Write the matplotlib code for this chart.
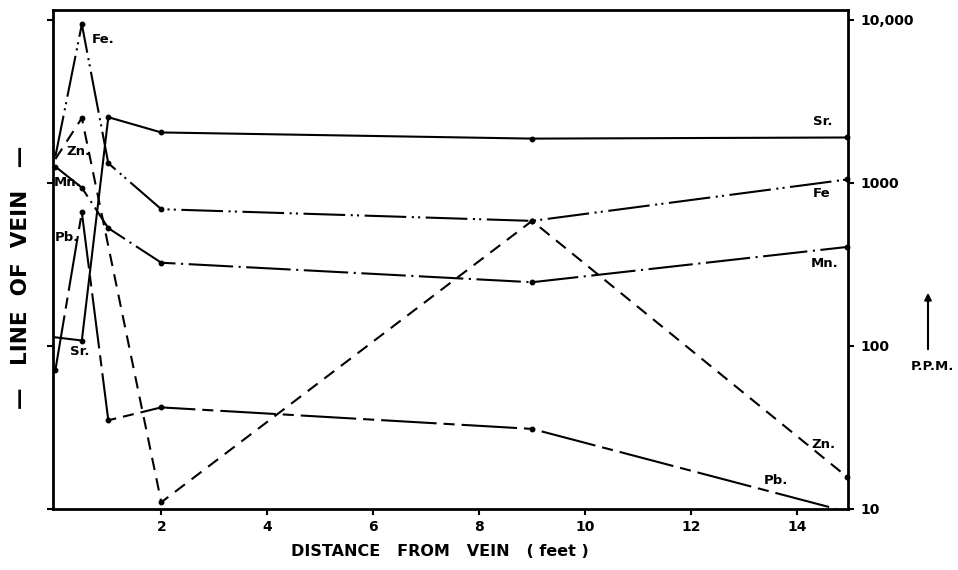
import matplotlib
matplotlib.use("Agg")
import matplotlib.pyplot as plt
from matplotlib.ticker import FixedLocator, FixedFormatter, NullLocator

plt.rcParams['font.family'] = ['DejaVu Sans']
plt.rcParams['lines.scale_dashes'] = False

# %% Data (ppm against distance from vein, feet)
dist_fe = [0, 0.5, 1, 2, 9, 14.95]
fe_ppm = [1450, 9400, 1320, 690, 585, 1050]

dist_zn = [0, 0.5, 2, 9, 14.95]
zn_ppm = [1400, 2500, 11, 585, 15.7]

dist_mn = [0, 0.5, 1, 2, 9, 14.95]
mn_ppm = [1260, 935, 528, 324, 246, 405]

dist_pb = [0, 0.5, 1, 2, 9, 14.75]
pb_ppm = [71, 660, 35, 42, 31, 10]

dist_sr = [0, 0.5, 1, 2, 9, 14.95]
sr_ppm = [113, 108, 2530, 2040, 1870, 1900]

x_ticks = [2, 4, 6, 8, 10, 12, 14]
y_ticks = [10, 100, 1000, 10000]
y_ticklabels = ['10', '100', '1000', '10,000']

# %% Figure
W, H = 958, 570
fig = plt.figure(figsize=(W / 100, H / 100), dpi=100)
ax = fig.add_axes([52.7 / W, 1 - 509 / H, (848.3 - 52.7) / W, (509 - 10) / H])

lw = 1.5
common = dict(color='black', lw=lw, marker='o', ms=3.2, clip_on=False)
ax.plot(dist_sr, sr_ppm, ls='-', markevery=[1, 2, 3, 4, 5], **common)
ax.plot(dist_fe, fe_ppm, dashes=(30, 4, 1.5, 3, 1.5, 4), markevery=[1, 2, 3, 4, 5], **common)
ax.plot(dist_mn, mn_ppm, dashes=(32, 4, 1.5, 4), markevery=[0, 1, 2, 3, 4, 5], **common)
ax.plot(dist_zn, zn_ppm, dashes=(9, 6), markevery=[1, 2, 3, 4], **common)
ax.plot(dist_pb, pb_ppm, dashes=(40, 5, 8, 5), markevery=[0, 1, 2, 3, 4], **common)

ax.set_yscale('log')
ax.set_xlim(-0.05, 14.97)
ax.set_ylim(10, 11500)

ax.xaxis.set_major_locator(FixedLocator(x_ticks))
ax.yaxis.set_major_locator(FixedLocator(y_ticks))
ax.yaxis.set_major_formatter(FixedFormatter(y_ticklabels))
ax.yaxis.set_minor_locator(NullLocator())
ax.tick_params(axis='both', direction='out', length=4, width=1.5,
               labelsize=10, pad=4)
ax.tick_params(axis='y', left=True, right=True, labelleft=False, labelright=True,
               pad=5)
for lab in ax.get_xticklabels() + ax.get_yticklabels():
    lab.set_fontweight('bold')
for s in ax.spines.values():
    s.set_linewidth(2)

fig.text(440 / W, 1 - 551 / H, 'DISTANCE   FROM   VEIN   ( feet )', fontsize=11.5,
         fontweight='bold', ha='center', va='center')


# %% Element labels
def px(xp, yp):
    # pixel position in the image -> data coordinates
    return (xp - 55.3) / 53.0, 10 ** (1 + (509 - yp) / 163.0)


lab_kw = dict(fontsize=9.5, fontweight='bold', va='center')
for text, (xp, yp), ha in [('Fe.', (92, 40), 'left'), ('Zn.', (66, 152), 'left'),
                           ('Mn.', (54, 183), 'left'), ('Pb.', (55, 238), 'left'),
                           ('Sr.', (70, 352), 'left'), ('Sr.', (823, 122), 'center'),
                           ('Fe', (822, 194), 'center'), ('Mn.', (825, 264), 'center'),
                           ('Zn.', (824, 445), 'center'), ('Pb.', (776, 481), 'center')]:
    ax.text(*px(xp, yp), text, ha=ha, **lab_kw)

fig.text(21 / W, 1 - 277 / H, '—   LINE  OF  VEIN   —', rotation=90, fontsize=15.5,
         fontweight='bold', ha='center', va='center')

fig.text(932 / W, 1 - 367 / H, 'P.P.M.', fontsize=9.5, fontweight='bold',
         ha='center', va='center')
fig.add_artist(matplotlib.patches.FancyArrowPatch(
    (928 / W, 1 - 352 / H), (928 / W, 1 - 290 / H), transform=fig.transFigure,
    arrowstyle='-|>', mutation_scale=10, lw=1.5, color='black'))

fig.savefig('out.png', dpi=100)
